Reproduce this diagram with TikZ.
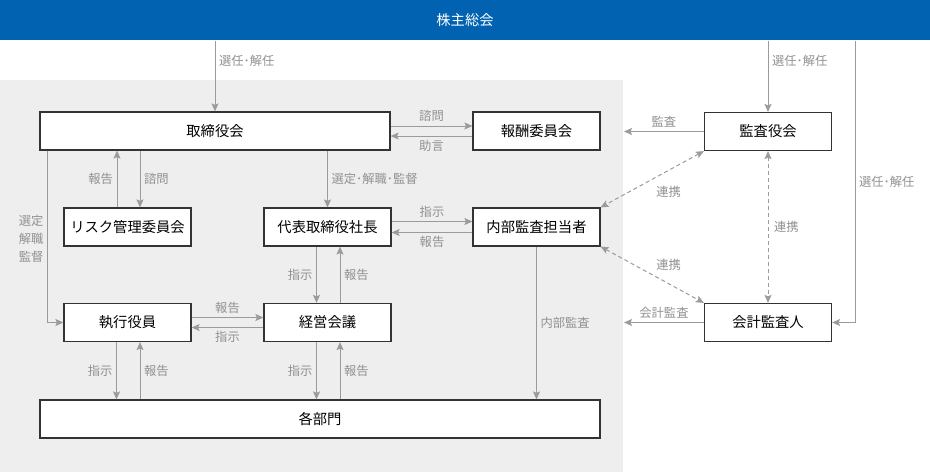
\documentclass[tikz,border=0pt]{standalone}
\usepackage{fontspec}
\setmainfont{Noto Sans CJK JP}
\usetikzlibrary{arrows.meta}
\definecolor{bar_blue}{RGB}{0,98,177}
\definecolor{back_gray}{RGB}{238,238,238}
\definecolor{edge_gray}{RGB}{155,155,155}
\definecolor{text_gray}{RGB}{145,145,145}
\definecolor{box_line}{RGB}{51,51,51}

\begin{document}
\begin{tikzpicture}[x=1pt,y=-1pt,->,line width=1pt,>={Stealth[length=8pt,width=7pt,inset=1.5pt]}]
    \tikzstyle{box}=[draw=box_line, line width=1.2pt, rectangle, fill=white, minimum width=127pt, minimum height=38pt, inner sep=0pt, text=black, font=\fontsize{14.3}{16}\selectfont]
    \tikzstyle{wide}=[style=box, minimum width=350pt]
    \tikzstyle{lbl}=[text=text_gray, font=\fontsize{12.3}{18}\selectfont, inner sep=3.5pt]
    \tikzstyle{link}=[draw=edge_gray]
    \tikzstyle{dlink}=[draw=edge_gray, <->, dash pattern=on 4pt off 3pt]

    \useasboundingbox (0,0) rectangle (930,472);
    \fill[white] (0,0) rectangle (930,472);
    \fill[back_gray] (0,80) rectangle (623,472);

    \node[fill=bar_blue, minimum width=930pt, minimum height=40pt, inner sep=0pt, text=white, font=\fontsize{14.3}{16}\selectfont] (soukai) at (465,20) {株主総会};

    \node[wide] (torishimari) at (215,131) {取締役会};
    \node[box] (houshu)    at (536.5,131) {報酬委員会};
    \node[box] (kansayaku) at (768,131.5) {監査役会};
    \node[box] (risk)      at (127.5,227) {リスク管理委員会};
    \node[box] (daihyo)    at (327.5,227) {代表取締役社長};
    \node[box] (naibu)     at (536.5,227) {内部監査担当者};
    \node[box] (shikko)    at (127.5,322.5) {執行役員};
    \node[box] (keiei)     at (327.5,322.5) {経営会議};
    \node[box] (kaikei)    at (768,322.5) {会計監査人};
    \node[box, minimum width=560pt] (kakubu) at (320,419) {各部門};

    \coordinate (kansa_end)  at (624,131.5);
    \coordinate (kaikei_end) at (624,322.5);
    \coordinate (elbow)      at (855,322.5);

    \path
     (torishimari.north |- soukai.south) edge[link] node[lbl,right,pos=0.29] {選任･解任} (torishimari.north)
     (kansayaku.north |- soukai.south) edge[link] node[lbl,right,pos=0.29] {選任･解任} (kansayaku.north)
     ([yshift=5pt]torishimari.east) edge[link] node[lbl,above] {諮問} ([yshift=5pt]houshu.west)
     ([yshift=-5pt]houshu.west) edge[link] node[lbl,below] {助言} ([yshift=-5pt]torishimari.east)
     (kansayaku.west) edge[link] node[lbl,above] {監査} (kansa_end)
     (kaikei.west) edge[link] node[lbl,above] {会計監査} (kaikei_end)
     ([xshift=-10.5pt]risk.north) edge[link] node[lbl,left] {報告} ([xshift=-10.5pt]risk.north |- torishimari.south)
     ([xshift=12.5pt]risk.north |- torishimari.south) edge[link] node[lbl,right] {諮問} ([xshift=12.5pt]risk.north)
     (daihyo.north |- torishimari.south) edge[link] node[lbl,right] {選定･解職･監督} (daihyo.north)
     ([yshift=5.5pt]daihyo.east) edge[link] node[lbl,above] {指示} ([yshift=5.5pt]naibu.west)
     ([yshift=-5.5pt]naibu.west) edge[link] node[lbl,below] {報告} ([yshift=-5.5pt]daihyo.east)
     ([xshift=-11pt]daihyo.south) edge[link] node[lbl,left] {指示} ([xshift=-11pt]keiei.north)
     ([xshift=12.5pt]keiei.north) edge[link] node[lbl,right] {報告} ([xshift=12.5pt]daihyo.south)
     ([yshift=5pt]shikko.east) edge[link] node[lbl,above] {報告} ([yshift=5pt]keiei.west)
     ([yshift=-5pt]keiei.west) edge[link] node[lbl,below] {指示} ([yshift=-5pt]shikko.east)
     ([xshift=-11pt]shikko.south) edge[link] node[lbl,left] {指示} ([xshift=-11pt]shikko.south |- kakubu.north)
     ([xshift=12.5pt]shikko.south |- kakubu.north) edge[link] node[lbl,right] {報告} ([xshift=12.5pt]shikko.south)
     ([xshift=-11pt]keiei.south) edge[link] node[lbl,left] {指示} ([xshift=-11pt]keiei.south |- kakubu.north)
     ([xshift=12.5pt]keiei.south |- kakubu.north) edge[link] node[lbl,right] {報告} ([xshift=12.5pt]keiei.south)
     (naibu.south) edge[link] node[lbl,right] {内部監査} (naibu.south |- kakubu.north)
     (kansayaku.south west) edge[dlink] node[lbl,below right,yshift=-3pt] {連携} (naibu.north east)
     (naibu.south east) edge[dlink] node[lbl,above right] {連携} (kaikei.north west)
     (kansayaku.south) edge[dlink] node[lbl,right,xshift=2pt] {連携} (kaikei.north)
     ;
    \draw[link] ([xshift=8pt]torishimari.south west) |- node[lbl,left,pos=0.256,align=center] {選定\\解職\\監督} (shikko.west);
    \draw[link] (elbow |- soukai.south) -- node[lbl,right] {選任･解任} (elbow) -- (kaikei.east);
\end{tikzpicture}
\end{document}
